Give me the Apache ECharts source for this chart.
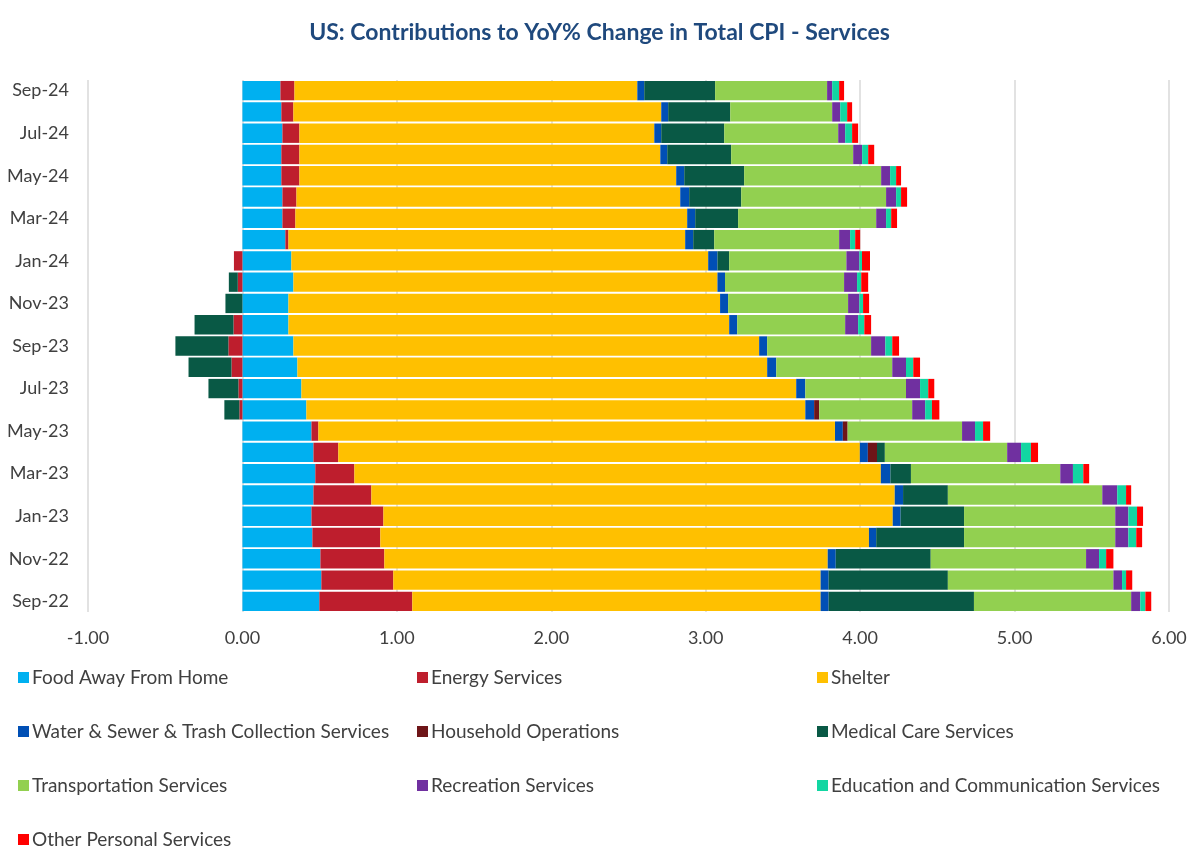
<!DOCTYPE html>
<html>
<head>
<meta charset="utf-8">
<script src="https://cdn.jsdelivr.net/npm/echarts@6/dist/echarts.min.js"></script>
<style>html,body{margin:0;padding:0;background:#fff}#c{width:1199px;height:866px}</style>
</head>
<body>
<div id="c"></div>
<script>
const months = ['Sep-22','Oct-22','Nov-22','Dec-22','Jan-23','Feb-23','Mar-23','Apr-23','May-23','Jun-23','Jul-23','Aug-23','Sep-23','Oct-23','Nov-23','Dec-23','Jan-24','Feb-24','Mar-24','Apr-24','May-24','Jun-24','Jul-24','Aug-24','Sep-24'];
const xTicks = [-1, 0, 1, 2, 3, 4, 5, 6];

const foodAwayFromHome = [0.498,0.511,0.505,0.453,0.447,0.460,0.472,0.460,0.447,0.414,0.382,0.356,0.330,0.298,0.298,0.330,0.317,0.278,0.259,0.259,0.252,0.252,0.259,0.252,0.246];
const energyServices   = [0.602,0.466,0.414,0.440,0.466,0.375,0.253,0.161,0.045,-0.020,-0.026,-0.071,-0.091,-0.058,0.000,-0.030,-0.055,0.020,0.084,0.091,0.117,0.117,0.110,0.078,0.091];
const shelter          = [2.644,2.767,2.871,3.164,3.298,3.389,3.409,3.377,3.345,3.231,3.204,3.042,3.016,2.854,2.795,2.746,2.699,2.569,2.537,2.485,2.440,2.337,2.298,2.382,2.220];
const waterSewerTrash  = [0.052,0.052,0.052,0.047,0.051,0.054,0.062,0.052,0.051,0.057,0.059,0.059,0.052,0.052,0.052,0.049,0.060,0.052,0.052,0.058,0.052,0.045,0.045,0.045,0.045];
const householdOps     = [0,0,0,0,0,0,0,0.059,0.031,0.033,0,0,0,0,0,0,0,0,0,0,0,0,0,0,0];
const medicalCare      = [0.941,0.772,0.615,0.569,0.411,0.290,0.133,0.051,0,-0.097,-0.194,-0.278,-0.343,-0.252,-0.110,-0.058,0.076,0.136,0.278,0.337,0.388,0.414,0.408,0.402,0.459];
const transportation   = [1.018,1.072,1.006,0.979,0.979,1.000,0.967,0.792,0.741,0.602,0.652,0.751,0.673,0.699,0.777,0.771,0.759,0.809,0.894,0.938,0.887,0.790,0.738,0.660,0.725];
const recreation       = [0.059,0.056,0.084,0.085,0.085,0.097,0.082,0.090,0.084,0.084,0.091,0.089,0.092,0.084,0.073,0.084,0.084,0.071,0.064,0.065,0.058,0.058,0.045,0.052,0.033];
const educationComm    = [0.033,0.026,0.046,0.051,0.056,0.057,0.067,0.064,0.052,0.044,0.053,0.047,0.045,0.040,0.024,0.027,0.017,0.033,0.033,0.032,0.039,0.039,0.045,0.045,0.045];
const otherPersonal    = [0.038,0.040,0.047,0.038,0.039,0.033,0.038,0.046,0.046,0.048,0.039,0.044,0.044,0.044,0.039,0.045,0.052,0.032,0.038,0.039,0.032,0.039,0.039,0.032,0.032];

const seriesDefs = [
  ['Food Away From Home', foodAwayFromHome, '#00B0F0'],
  ['Energy Services', energyServices, '#BE1E2D'],
  ['Shelter', shelter, '#FFC000'],
  ['Water & Sewer & Trash Collection Services', waterSewerTrash, '#004FB5'],
  ['Household Operations', householdOps, '#6E1518'],
  ['Medical Care Services', medicalCare, '#095945'],
  ['Transportation Services', transportation, '#92D050'],
  ['Recreation Services', recreation, '#7030A0'],
  ['Education and Communication Services', educationComm, '#12D6A2'],
  ['Other Personal Services', otherPersonal, '#FF0000']
];

const FONT = 'Lato';
const chart = echarts.init(document.getElementById('c'), null, {renderer: 'canvas'});
const legendCommon = {
  orient: 'vertical', itemWidth: 11, itemHeight: 11, itemGap: 35,
  icon: 'rect', selectedMode: false,
  textStyle: {fontFamily: FONT, fontSize: 19, color: '#404040', padding: [0,0,0,-2]}
};
chart.setOption({
  animation: false,
  color: seriesDefs.map(d => d[2]),
  title: {
    text: 'US: Contributions to YoY% Change in Total CPI - Services',
    left: 'center', top: 16,
    textStyle: {fontFamily: FONT, fontSize: 23, fontWeight: 'bold', color: '#1F497D'}
  },
  legend: [
    Object.assign({left: 13, top: 663, data: [seriesDefs[0][0], seriesDefs[3][0], seriesDefs[6][0], seriesDefs[9][0]]}, legendCommon),
    Object.assign({left: 412, top: 663, data: [seriesDefs[1][0], seriesDefs[4][0], seriesDefs[7][0]]}, legendCommon),
    Object.assign({left: 812, top: 663, data: [seriesDefs[2][0], seriesDefs[5][0], seriesDefs[8][0]]}, legendCommon)
  ],
  grid: {left: 88, top: 80, width: 1081, height: 532, containLabel: false},
  xAxis: {
    type: 'value', min: xTicks[0], max: xTicks[xTicks.length-1], interval: 1,
    axisLine: {show: false}, axisTick: {show: false},
    splitLine: {show: true, lineStyle: {color: '#D9D9D9', width: 1.5}},
    axisLabel: {fontFamily: FONT, fontSize: 18, color: '#404040', margin: 17,
      formatter: v => v.toFixed(2)}
  },
  yAxis: {
    type: 'category', data: months,
    axisLine: {show: false}, axisTick: {show: false},
    axisLabel: {interval: 1, fontFamily: FONT, fontSize: 18, color: '#404040', margin: 19}
  },
  series: seriesDefs.map(d => ({
    name: d[0], type: 'bar', stack: 'total', data: d[1],
    barCategoryGap: '9%', itemStyle: {color: d[2]}
  }))
});
</script>
</body>
</html>
